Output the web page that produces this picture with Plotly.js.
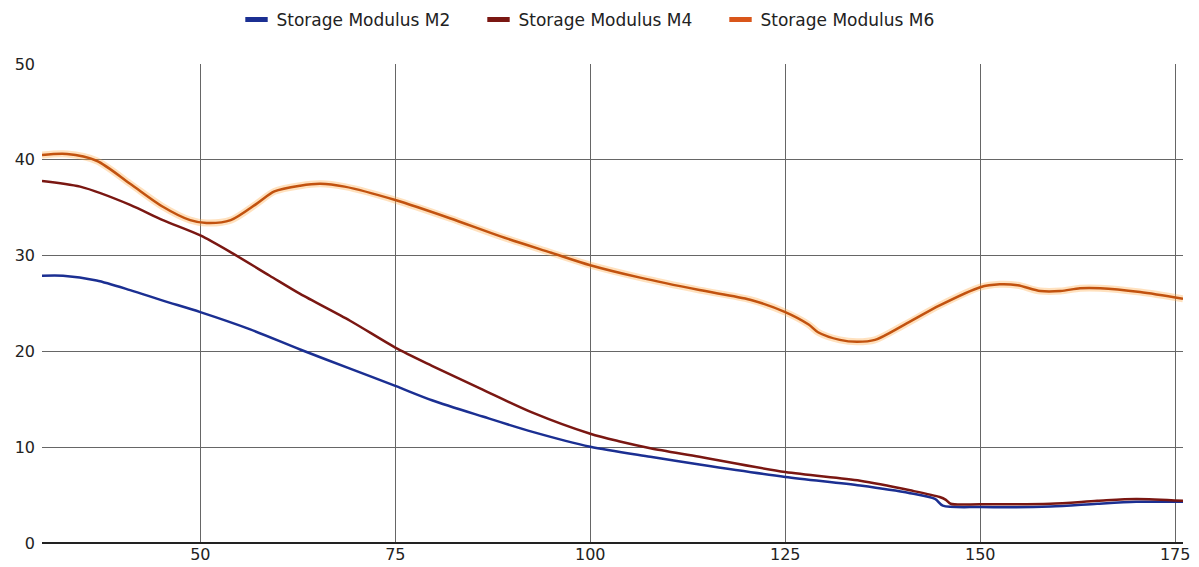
<!DOCTYPE html>
<html>
<head>
<meta charset="utf-8">
<script src="https://cdn.plot.ly/plotly-3.0.1.min.js"></script>
<style>html,body{margin:0;padding:0;background:#fff;}#chart{width:1199px;height:567px;}</style>
</head>
<body>
<div id="chart"></div>
<script>
// Storage Modulus M2
const xM2 = [29.7, 32.4, 36.7, 41, 45.2, 50, 56.4, 62.8, 69.2, 75, 79.7, 86.2, 92.6, 100, 107.7, 114, 125, 134.6, 141, 144.2, 145.2, 150, 159, 165, 170, 176];
const yM2 = [27.9, 27.9, 27.4, 26.4, 25.3, 24.1, 22.3, 20.2, 18.2, 16.4, 14.9, 13.2, 11.6, 10.05, 9.0, 8.2, 6.9, 6.0, 5.2, 4.6, 3.9, 3.75, 3.8, 4.1, 4.3, 4.3];
// Storage Modulus M4
const xM4 = [29.7, 34.6, 41, 45.2, 50, 54.2, 58.9, 62.8, 69.2, 75, 79.7, 86.2, 92.6, 100, 103.8, 107.7, 114, 125, 134.6, 141, 144.8, 145.6, 146.2, 150, 159, 165, 170, 176];
const yM4 = [37.8, 37.2, 35.3, 33.7, 32.1, 30.2, 27.9, 26.0, 23.2, 20.4, 18.5, 16.0, 13.6, 11.4, 10.6, 9.9, 9.0, 7.4, 6.5, 5.5, 4.8, 4.5, 4.1, 4.05, 4.1, 4.4, 4.6, 4.4];
// Storage Modulus M6
const xM6 = [29.7, 32.9, 36.7, 41, 45.2, 48.7, 50.8, 53.9, 57.2, 59.5, 62.8, 65.4, 68.5, 75, 82, 88.5, 95, 100, 106.4, 114, 120.5, 125, 128, 129.2, 132, 134.2, 136.5, 140.3, 144.8, 150, 152.5, 154.8, 157.7, 160.3, 162.8, 165.4, 170.5, 176];
const yM6 = [40.5, 40.6, 39.9, 37.5, 35.1, 33.7, 33.4, 33.7, 35.4, 36.7, 37.3, 37.5, 37.2, 35.8, 33.9, 32.0, 30.3, 29.0, 27.7, 26.4, 25.4, 24.1, 22.8, 22.0, 21.2, 21.0, 21.2, 22.8, 24.8, 26.7, 27.0, 26.9, 26.3, 26.3, 26.6, 26.6, 26.2, 25.5];

const seriesNames = ['Storage Modulus M2', 'Storage Modulus M4', 'Storage Modulus M6'];
const xTicks = [50, 75, 100, 125, 150, 175];

const colM2 = '#1b2f92', colM4 = '#7a1712', colM6 = '#c2520f', colM6Legend = '#d9561a';

const lineTrace = (x, y, color, width) => ({
  x: x, y: y, type: 'scatter', mode: 'lines', showlegend: false, hoverinfo: 'skip',
  line: {color: color, width: width, shape: 'spline', smoothing: 0.8}
});
const legendTrace = (name, color) => ({
  x: [null], y: [null], type: 'scatter', mode: 'markers', name: name,
  marker: {symbol: 'line-ew', size: 16, color: color, line: {color: color, width: 5}}
});

const data = [
  lineTrace(xM6, yM6, 'rgba(255,170,70,0.35)', 7),
  lineTrace(xM2, yM2, colM2, 2.5),
  lineTrace(xM4, yM4, colM4, 2.5),
  lineTrace(xM6, yM6, colM6, 2.5),
  legendTrace(seriesNames[0], colM2),
  legendTrace(seriesNames[1], colM4),
  legendTrace(seriesNames[2], colM6Legend)
];

const layout = {
  width: 1199, height: 567,
  paper_bgcolor: '#fff', plot_bgcolor: '#fff',
  margin: {l: 42, r: 16, t: 64, b: 24, pad: 0},
  font: {family: 'DejaVu Sans, sans-serif', size: 16, color: '#222'},
  showlegend: true,
  legend: {
    orientation: 'h', x: 0.5, xanchor: 'center', xref: 'container',
    y: 0.965, yanchor: 'middle', yref: 'container',
    font: {family: 'DejaVu Sans, sans-serif', size: 17, color: '#222'},
    itemsizing: 'trace', entrywidth: 197, entrywidthmode: 'pixels',
    bgcolor: 'rgba(0,0,0,0)'
  },
  xaxis: {
    range: [29.7, 176], tickvals: xTicks, ticktext: xTicks.map(String),
    showgrid: true, gridcolor: '#666', gridwidth: 1,
    zeroline: false, showline: false, ticks: '',
    tickfont: {family: 'DejaVu Sans, sans-serif', size: 16, color: '#222'}
  },
  yaxis: {
    range: [0, 50], dtick: 10, tick0: 0,
    showgrid: true, gridcolor: '#666', gridwidth: 1,
    zeroline: true, zerolinecolor: '#222', zerolinewidth: 2,
    showline: false, ticks: '', ticklabelstandoff: 6,
    tickfont: {family: 'DejaVu Sans, sans-serif', size: 16, color: '#222'}
  }
};

Plotly.newPlot('chart', data, layout, {displayModeBar: false, staticPlot: true});
</script>
</body>
</html>
